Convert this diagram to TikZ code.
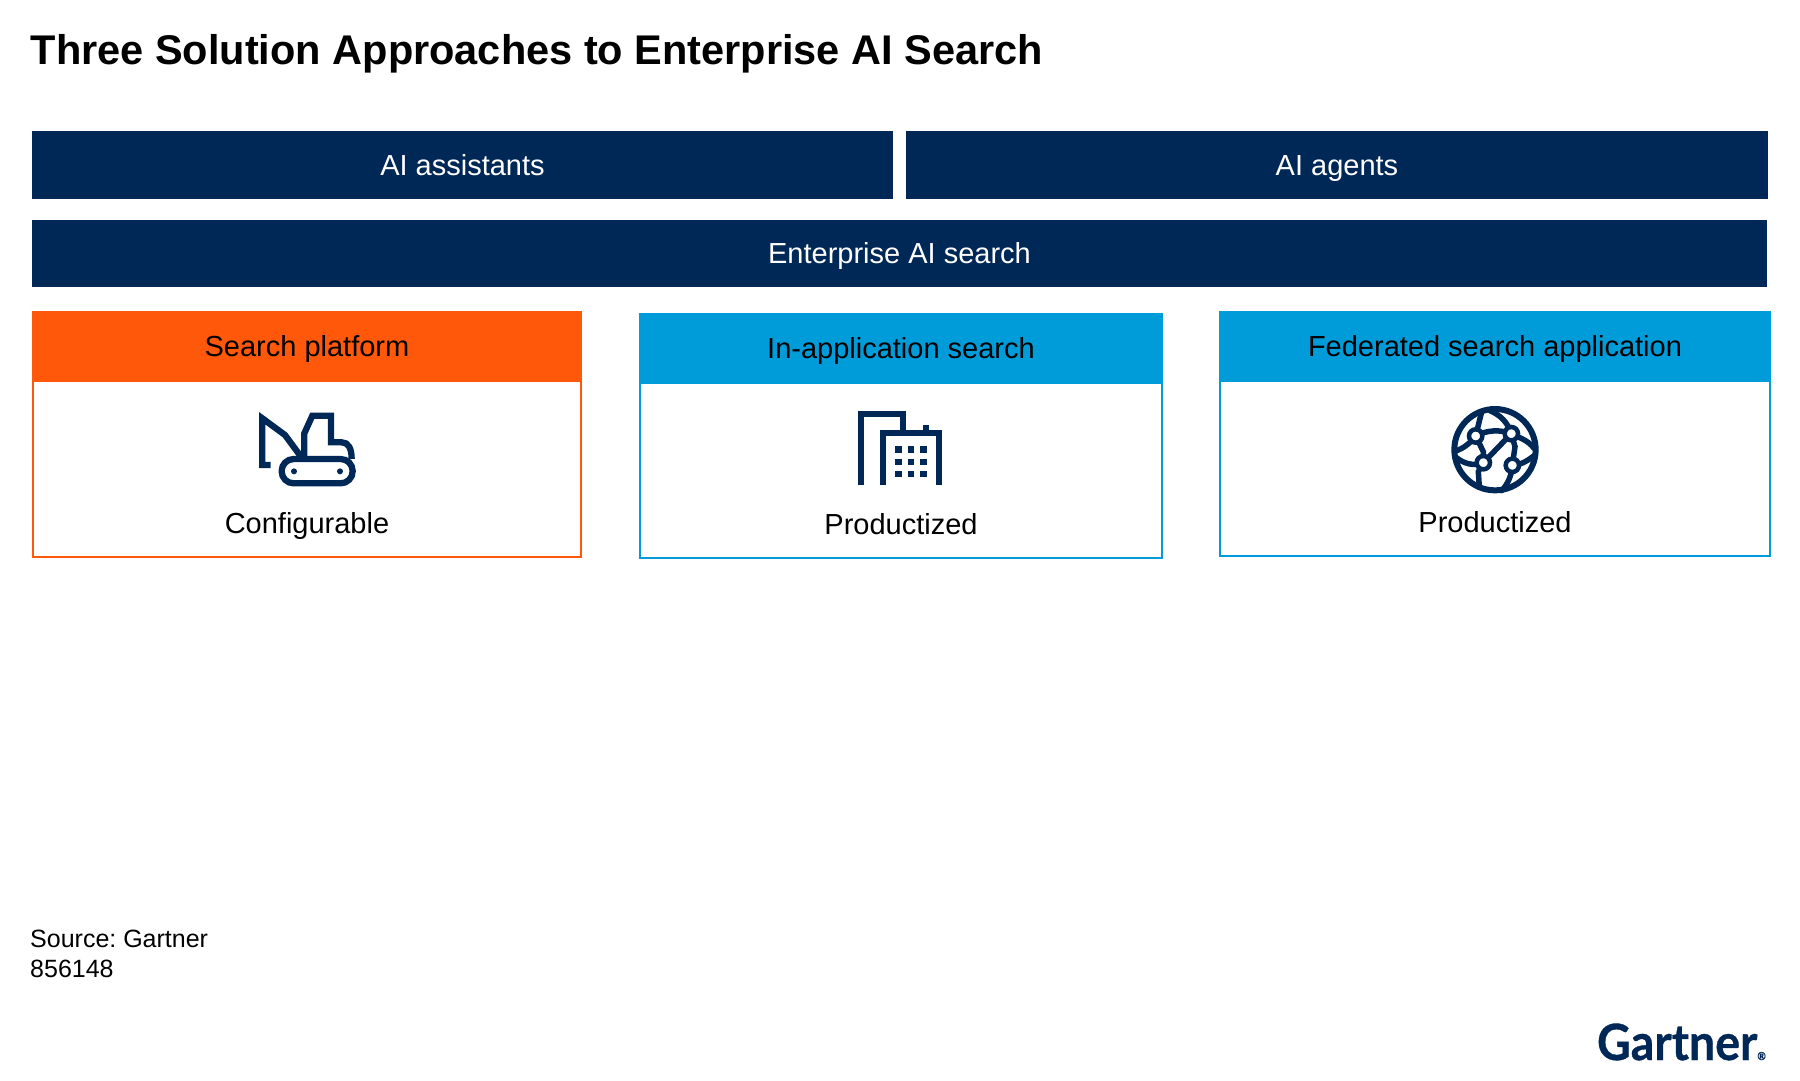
\documentclass[tikz,border=0pt]{standalone}
\usepackage{fontspec}
\usepackage{xcolor}
\setmainfont{Liberation Sans}
\newfontfamily\logofont[BoldFeatures={FakeBold=0.7}]{Lato}
\definecolor{navyblue}{RGB}{0, 40, 86}
\definecolor{flameorange}{RGB}{255, 88, 10}
\definecolor{skyblue}{RGB}{0, 155, 217}
\usetikzlibrary{positioning}

\begin{document}
\frenchspacing
\begin{tikzpicture}[
    x=1pt, y=-1pt,
    barnode/.style={
        rectangle,
        fill=navyblue,
        text=white,
        anchor=north west,
        inner sep=0pt,
        outer sep=0pt,
        minimum height=68pt,
        text height=26pt,
        text depth=6pt,
        font=\fontsize{29}{32}\selectfont
    },
    headnode/.style={
        rectangle,
        fill=#1,
        anchor=north west,
        inner sep=0pt,
        outer sep=0pt,
        minimum height=71pt,
        text height=26pt,
        text depth=6pt,
        font=\fontsize{29}{32}\selectfont
    },
    bodynode/.style={
        rectangle,
        draw=#1,
        line width=2pt,
        fill=white,
        anchor=north west,
        inner sep=0pt,
        outer sep=0pt
    },
    labelnode/.style={text height=26pt, text depth=6pt, inner sep=0pt, font=\fontsize{29}{32}\selectfont},
    notenode/.style={anchor=west, inner sep=0pt, font=\fontsize{25}{31}\selectfont},
    iconline/.style={draw=navyblue, line width=6.3pt}
]
    \useasboundingbox (0, 0) rectangle (1800, 1080);

    % Title
    \node[anchor=west, inner sep=0pt, font=\fontsize{41.5}{48}\selectfont\bfseries] (title) at (30.5, 53.5) {Three Solution Approaches to Enterprise AI Search};

    % Top bars
    \node[barnode, minimum width=861pt] (assist) at (32, 131) {AI assistants};
    \node[barnode, minimum width=862pt] (agents) at (906, 131) {AI agents};
    \node[barnode, minimum width=1735pt, minimum height=67pt] (search) at (32, 220) {Enterprise AI search};

    % Boxes
    \node[bodynode=flameorange, minimum width=548pt, minimum height=176pt] (body1) at (33, 381) {};
    \node[bodynode=skyblue, minimum width=522pt, minimum height=175pt] (body2) at (640, 383) {};
    \node[bodynode=skyblue, minimum width=550pt, minimum height=175pt] (body3) at (1220, 381) {};

    \node[headnode=flameorange, minimum width=550pt] (head1) at (32, 311) {Search platform};
    \node[headnode=skyblue, minimum width=524pt] (head2) at (639, 313) {In-application search};
    \node[headnode=skyblue, minimum width=552pt] (head3) at (1219, 311) {Federated search application};

    \node[labelnode] (label1) at (307, 523) {Configurable};
    \node[labelnode] (label2) at (901, 524.5) {Productized};
    \node[labelnode] (label3) at (1495, 522.5) {Productized};

    % Excavator
    \begin{scope}[shift={(200, 380)}, scale=1/3]
        \draw[iconline, line join=miter] (212, 255) -- (187, 255) -- (187, 115) -- (255, 165) -- (303, 230);
        \draw[iconline] (313, 230) -- (313, 160) -- (337, 107) -- (393, 107) -- (393, 187) -- (425, 187) .. controls (445, 187) and (455, 205) .. (455, 237);
        \draw[iconline, rounded corners=12pt, fill=white] (245, 237) rectangle (458, 310);
        \fill[navyblue] (282, 274) circle (9) (420, 274) circle (9);
    \end{scope}

    % Office buildings
    \begin{scope}[shift={(800, 380)}, scale=1/3]
        \draw[iconline] (184, 316) -- (184, 101) -- (309, 101) -- (309, 160);
        \draw[iconline] (248, 316) -- (248, 160) -- (416, 160) -- (416, 316);
        \fill[navyblue] (368, 134) rectangle (386, 160);
        \foreach \wx in {295, 332, 370}
            \foreach \wy in {208, 245, 282}
                \fill[navyblue] (\wx-9.5, \wy-9.5) rectangle (\wx+9.5, \wy+9.5);
    \end{scope}

    % Globe
    \begin{scope}[shift={(1400, 380)}, scale=1/3]
        \draw[navyblue, line width=5.5pt, line cap=round]
            (245, 95) -- (227, 168)
            (227, 168) .. controls (210, 190) and (190, 205) .. (170, 212)
            (227, 168) .. controls (260, 150) and (300, 148) .. (334, 161)
            (227, 168) -- (250, 215) -- (250, 248)
            (334, 161) -- (250, 248)
            (334, 161) .. controls (322, 125) and (300, 105) .. (270, 92)
            (334, 161) .. controls (350, 170) and (385, 180) .. (402, 205)
            (334, 161) -- (345, 200) -- (337, 256)
            (250, 248) .. controls (220, 260) and (190, 250) .. (168, 232)
            (250, 248) -- (235, 275) -- (238, 322)
            (337, 256) .. controls (365, 255) and (385, 240) .. (405, 225)
            (337, 256) .. controls (335, 285) and (325, 310) .. (305, 332);
        \draw[navyblue, line width=6pt] (285, 209) circle (122);
        \foreach \nx/\ny in {227/168, 334/161, 250/248, 337/256}
            \draw[navyblue, line width=4.5pt, fill=white] (\nx, \ny) circle (20);
    \end{scope}

    % Footer
    \node[notenode] (source) at (30, 939) {Source: Gartner};
    \node[notenode] (docid) at (30, 969) {856148};
    \node[anchor=base east, inner sep=0pt, text=navyblue, xscale=.93, font=\fontsize{50}{50}\logofont\bfseries] (logo) at (1766, 1060) {Gartner{\fontsize{11}{11}\selectfont ®}};
\end{tikzpicture}
\end{document}
